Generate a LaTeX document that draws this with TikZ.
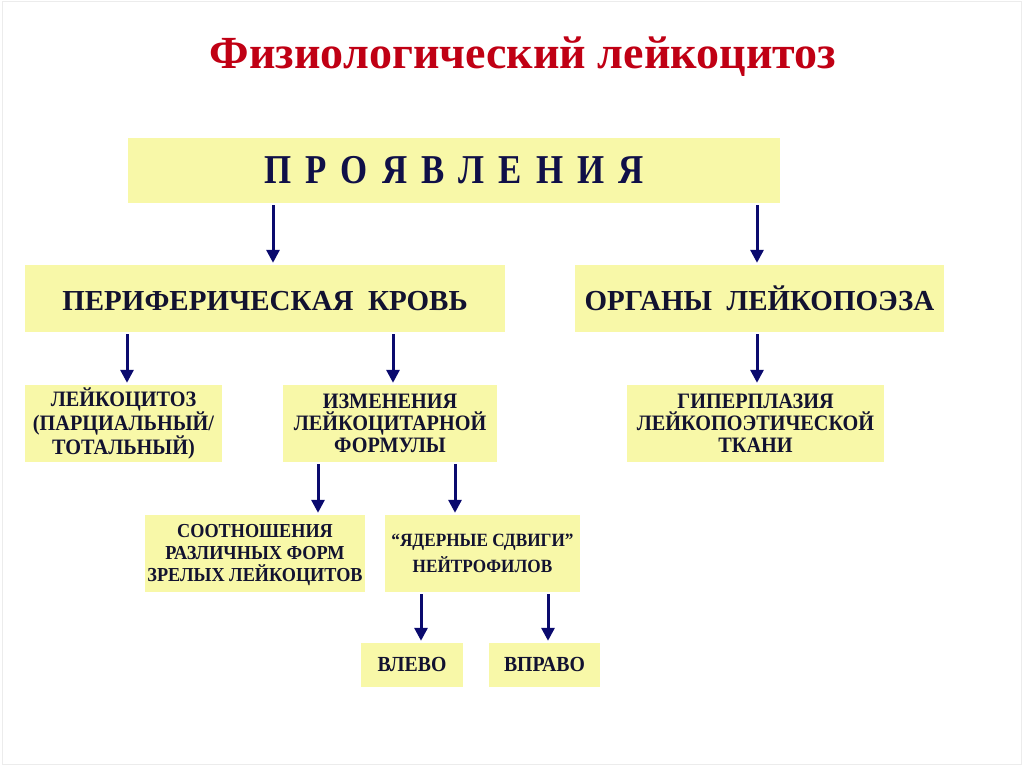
\documentclass[tikz,border=0pt]{standalone}
\usepackage{fontspec}
\setmainfont{Liberation Serif}
\newfontfamily\cond{Liberation Serif}[FakeStretch=0.92]
\newfontfamily\condB{Liberation Serif}[FakeStretch=0.85]
\usetikzlibrary{arrows.meta}
\definecolor{boxfill}{RGB}{248,248,168}
\definecolor{arrcol}{RGB}{10,10,110}
\definecolor{txtcol}{RGB}{18,18,48}
\definecolor{prcol}{RGB}{16,16,72}
\definecolor{titlecol}{RGB}{192,0,20}
\definecolor{framecol}{RGB}{236,236,236}
\newcommand{\topstrut}{\vphantom{Й}}
\newcommand{\botstrut}{\vphantom{(Щ}}
\tikzset{
  box/.style={fill=boxfill, draw=none, inner sep=0pt, align=center, text=txtcol, font=\bfseries},
  small/.style={box, font=\cond\bfseries\fontsize{22}{22}\selectfont, minimum height=77pt},
  arr/.style={draw=arrcol, line width=3pt, -{Triangle[length=13pt,width=13pt]}, shorten <=2pt, shorten >=2pt}
}
\begin{document}
\begin{tikzpicture}[x=1pt,y=-1pt]
\useasboundingbox (0,0) rectangle (1024,767);
\draw[framecol, line width=1pt] (2,2) rectangle (1021,764);
\node[text=titlecol, font=\bfseries\fontsize{46}{50}\selectfont] (title) at (523,57) {Физиологический лейкоцитоз};
\node[box, text=prcol, minimum width=652pt, minimum height=65pt, font=\condB\bfseries\fontsize{41}{42}\selectfont] (pr) at (454,170.5) {\makebox[380pt][s]{П Р О Я В Л Е Н И Я}};
\node[box, minimum width=480pt, minimum height=67pt, font=\bfseries\fontsize{29}{32}\selectfont] (per) at (265,298.5) {\topstrut ПЕРИФЕРИЧЕСКАЯ\hspace{0.5em}КРОВЬ};
\node[box, minimum width=369pt, minimum height=67pt, font=\bfseries\fontsize{29}{32}\selectfont] (org) at (759.5,298.5) {\topstrut ОРГАНЫ\hspace{0.5em}ЛЕЙКОПОЭЗА};
\node[small, minimum width=197pt] (lc) at (123.5,423.5) {\topstrut ЛЕЙКОЦИТОЗ\\(ПАРЦИАЛЬНЫЙ/\\ТОТАЛЬНЫЙ)\botstrut};
\node[small, minimum width=214pt] (izm) at (390,423.5) {\topstrut ИЗМЕНЕНИЯ\\ЛЕЙКОЦИТАРНОЙ\\ФОРМУЛЫ\botstrut};
\node[small, minimum width=257pt] (gip) at (755.5,423.5) {\topstrut ГИПЕРПЛАЗИЯ\\ЛЕЙКОПОЭТИЧЕСКОЙ\\ТКАНИ\botstrut};
\node[small, minimum width=220pt, font=\cond\bfseries\fontsize{19.8}{22}\selectfont] (soot) at (255,553.5) {\topstrut СООТНОШЕНИЯ\\РАЗЛИЧНЫХ ФОРМ\\ЗРЕЛЫХ ЛЕЙКОЦИТОВ\botstrut};
\node[small, minimum width=195pt, font=\cond\bfseries\fontsize{18.7}{26}\selectfont] (yad) at (482.5,553.5) {\topstrut “ЯДЕРНЫЕ СДВИГИ”\\НЕЙТРОФИЛОВ\botstrut};
\node[small, minimum width=102pt, minimum height=44pt, font=\cond\bfseries\fontsize{21.5}{22}\selectfont] (vl) at (412,665) {\topstrut ВЛЕВО\botstrut};
\node[small, minimum width=111pt, minimum height=44pt, font=\cond\bfseries\fontsize{21.5}{22}\selectfont] (vp) at (544.5,665) {\topstrut ВПРАВО\botstrut};
\draw[arr] (pr.south -| 273,0) -- (per.north -| 273,0);
\draw[arr] (pr.south -| 757,0) -- (org.north -| 757,0);
\draw[arr] (per.south -| 127,0) -- (lc.north -| 127,0);
\draw[arr] (per.south -| 393,0) -- (izm.north -| 393,0);
\draw[arr] (org.south -| 757,0) -- (gip.north -| 757,0);
\draw[arr] (izm.south -| 318,0) -- (soot.north -| 318,0);
\draw[arr] (izm.south -| 455,0) -- (yad.north -| 455,0);
\draw[arr] (yad.south -| 421,0) -- (vl.north -| 421,0);
\draw[arr] (yad.south -| 548,0) -- (vp.north -| 548,0);
\end{tikzpicture}
\end{document}
